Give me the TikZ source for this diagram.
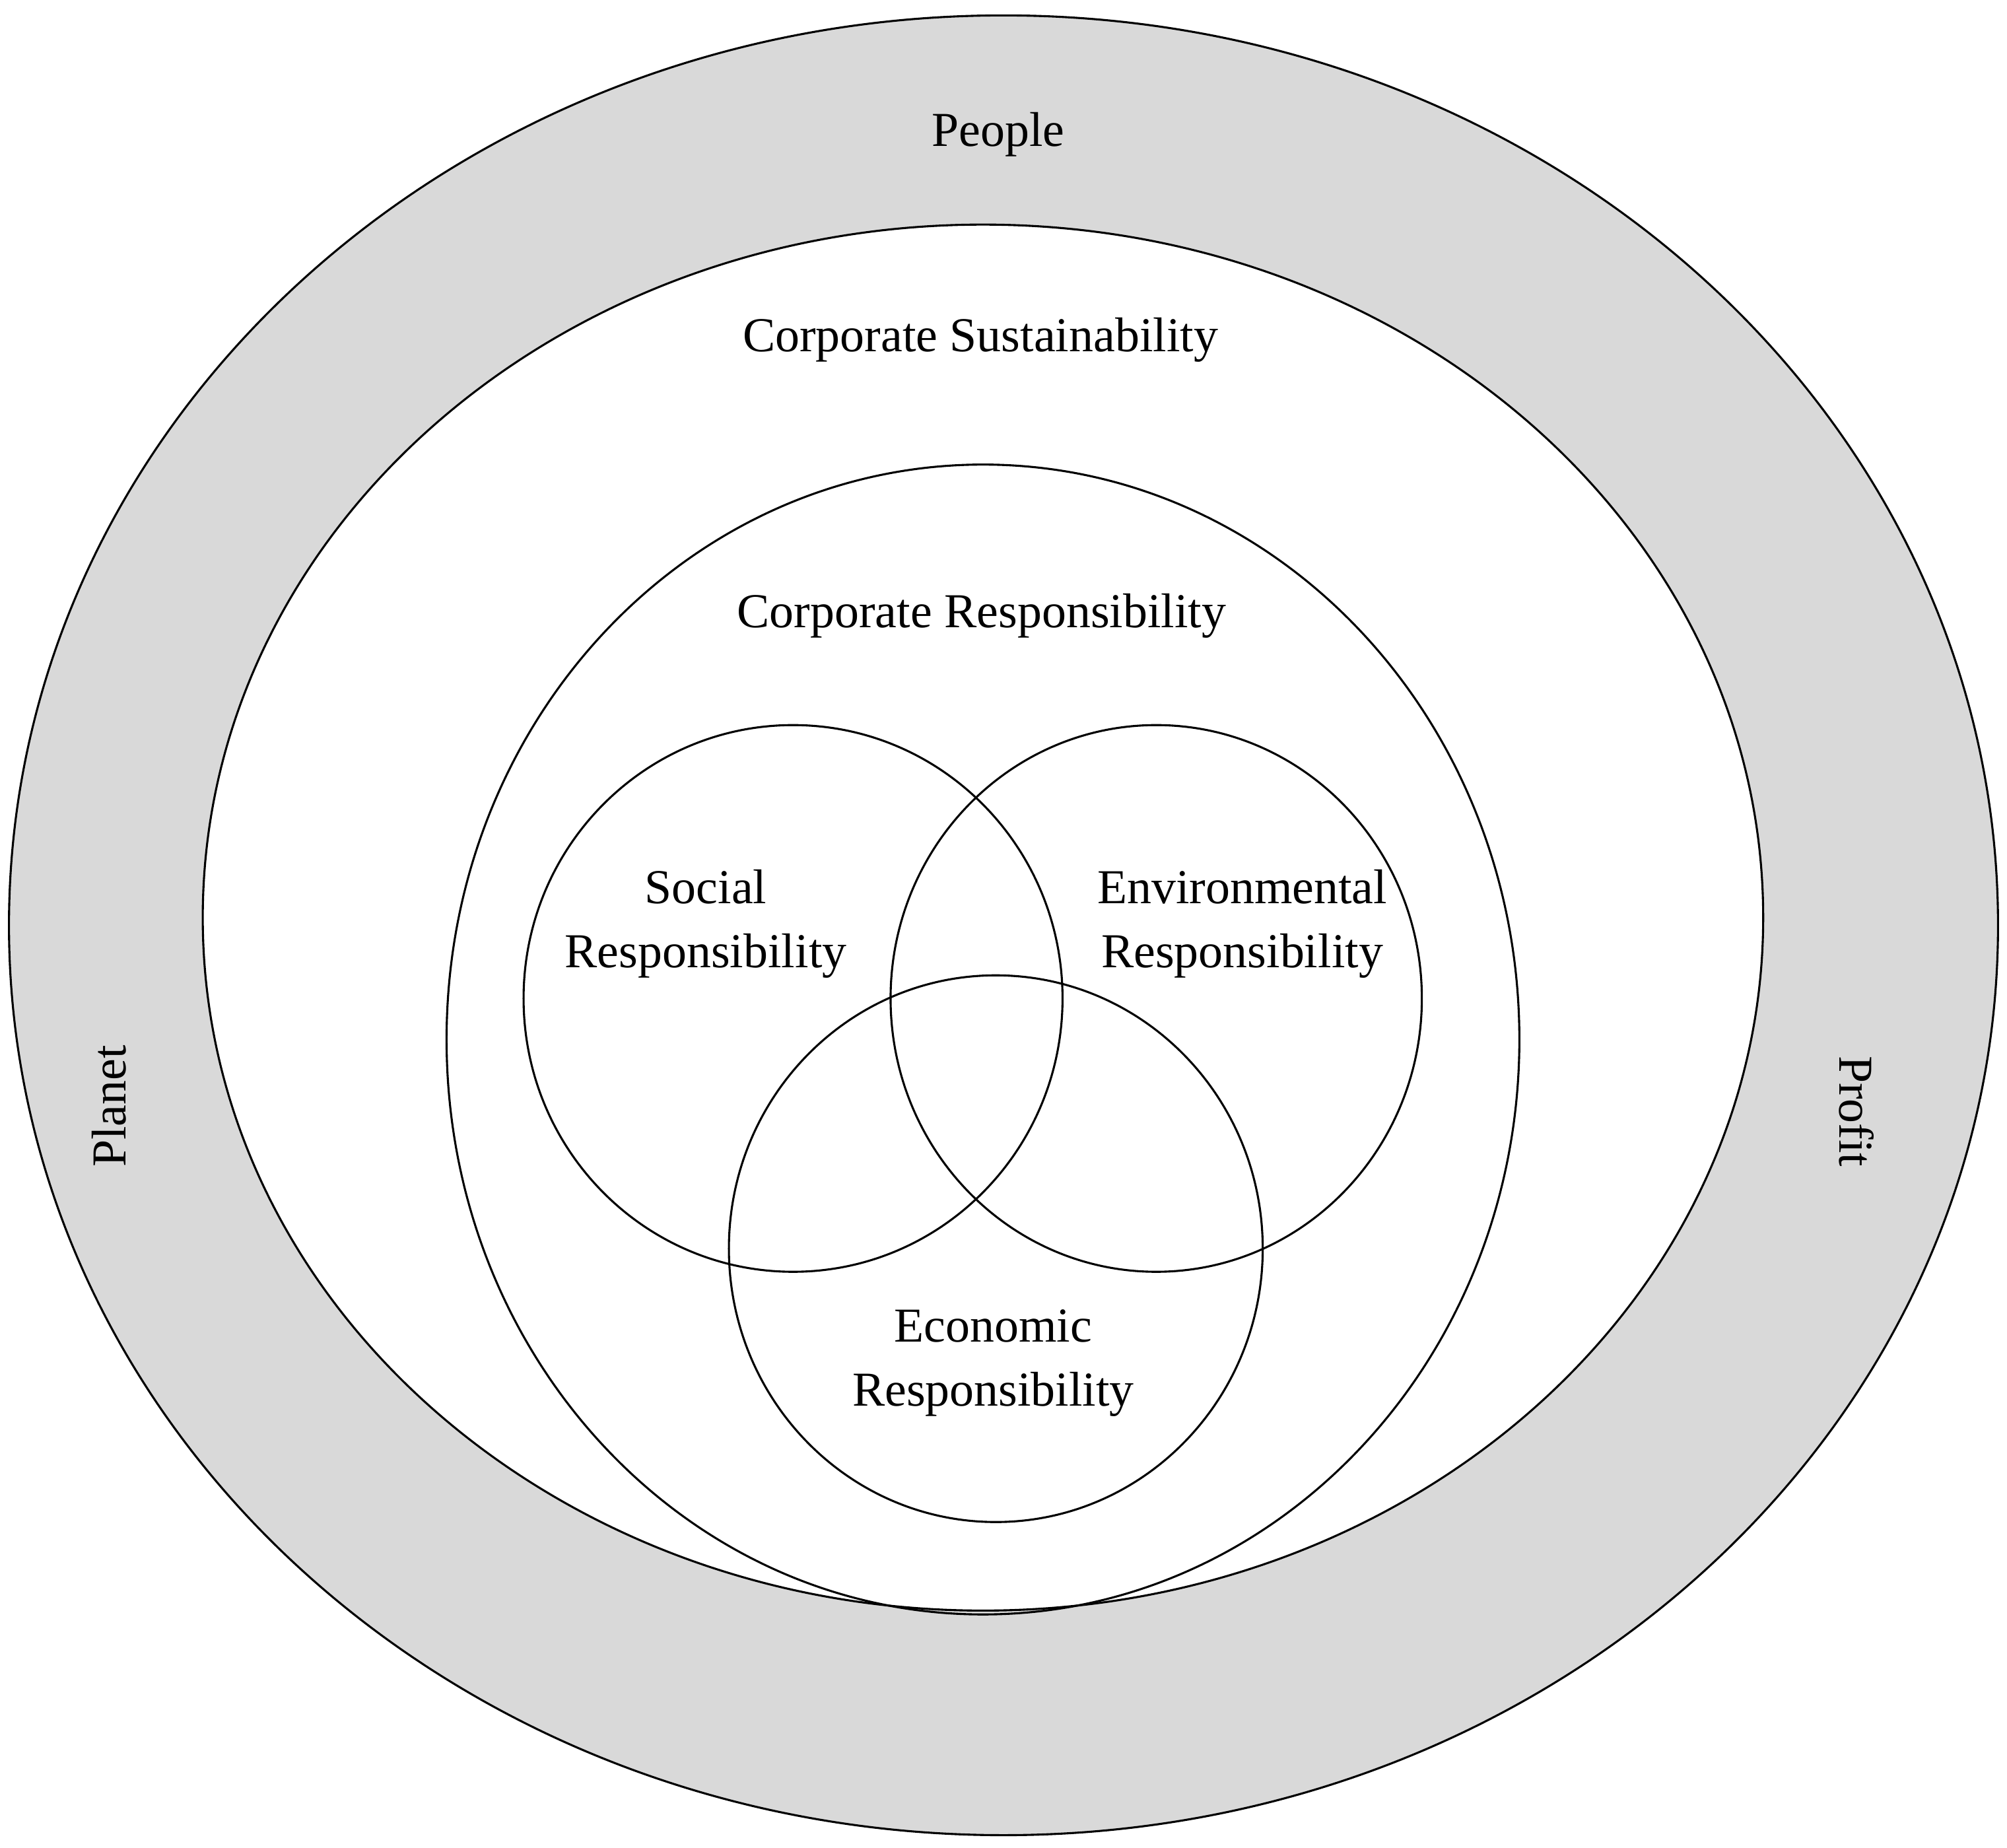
\documentclass[tikz,border=0pt]{standalone}
\usepackage{fontspec}
\setmainfont{Liberation Serif}
\begin{document}
\begin{tikzpicture}[x=1pt,y=-1pt,
  ring/.style={draw=black,line width=1.6pt},
  lbl/.style={font=\fontsize{38}{50}\selectfont,align=center}]
\useasboundingbox (0,0) rectangle (1564,1440);
\fill[white] (0,0) rectangle (1564,1440);
\draw[ring,fill={rgb,255:red,217;green,217;blue,217}] (782,721) ellipse [x radius=775,y radius=709];
\draw[ring,fill=white] (766,715) ellipse [x radius=608,y radius=540];
\draw[ring] (766,810) ellipse [x radius=418,y radius=448];
\draw[ring] (618,778) ellipse [x radius=210,y radius=213];
\draw[ring] (901,778) ellipse [x radius=207,y radius=213];
\draw[ring] (776,973) ellipse [x radius=208,y radius=213];
\node[lbl] (people) at (778,105) {People};
\node[lbl] (cs) at (764,265) {Corporate Sustainability};
\node[lbl] (cr) at (765,480) {Corporate Responsibility};
\node[lbl] (soc) at (550,720) {Social\\Responsibility};
\node[lbl] (env) at (968,720) {Environmental\\Responsibility};
\node[lbl] (eco) at (774,1062) {Economic\\Responsibility};
\node[lbl,rotate=90] (planet) at (85,862) {Planet};
\node[lbl,rotate=-90] (profit) at (1447,866) {Profit};
\end{tikzpicture}
\end{document}
